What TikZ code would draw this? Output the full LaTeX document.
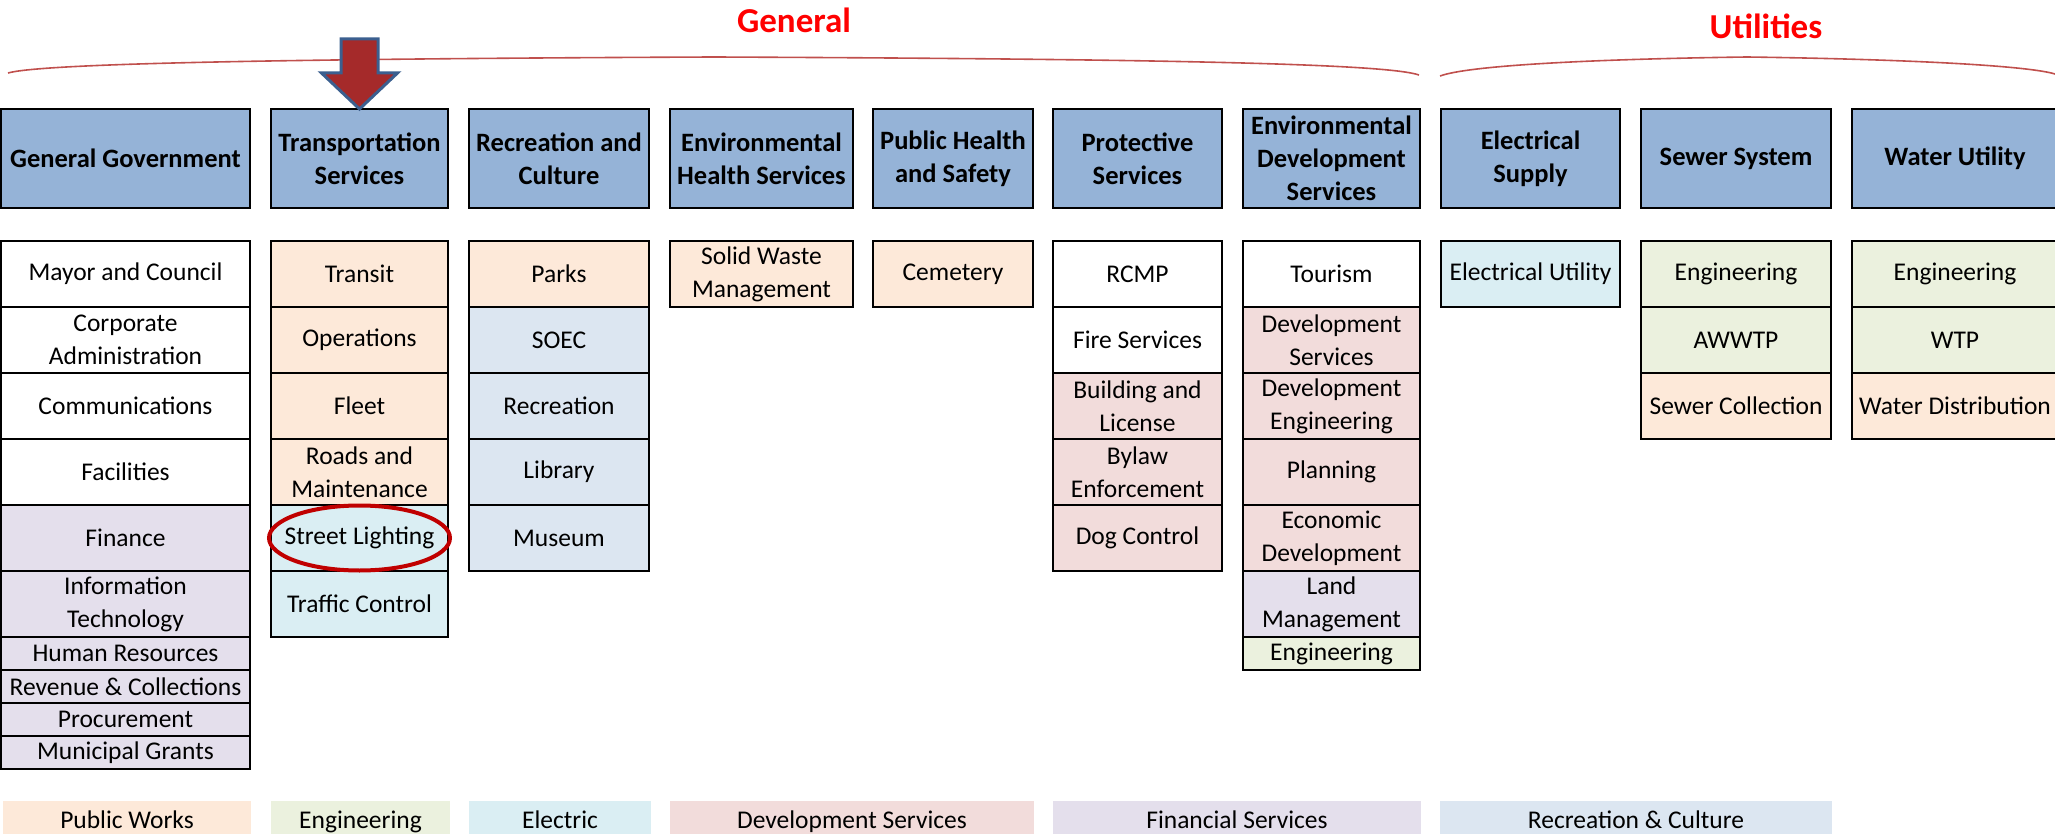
\documentclass[tikz,border=0pt]{standalone}
\usepackage{fontspec}
\setmainfont{Carlito}
\usetikzlibrary{shapes.geometric}

\definecolor{hdblue}{HTML}{95B3D7}
\definecolor{pubworks}{HTML}{FDE9D9}
\definecolor{engin}{HTML}{EBF1DE}
\definecolor{electric}{HTML}{DAEEF3}
\definecolor{devserv}{HTML}{F2DCDB}
\definecolor{finserv}{HTML}{E4DFEC}
\definecolor{reccult}{HTML}{DCE6F1}
\definecolor{bracered}{HTML}{C0504D}
\definecolor{arrowred}{HTML}{A52A2A}
\definecolor{arrowblue}{HTML}{3B5F8F}
\definecolor{ringred}{HTML}{C00000}

\tikzset{
  hd/.style={draw, line width=1.5pt, fill=hdblue, minimum height=99pt, inner sep=0, outer sep=0,
    align=center, font=\fontsize{26.5}{33}\selectfont\bfseries},
  cell/.style={draw, line width=1.5pt, minimum height=66pt, inner sep=0, outer sep=0,
    align=center, font=\fontsize{25.5}{33}\selectfont},
  cellsm/.style={cell, minimum height=33pt},
  key/.style={minimum height=33pt, inner sep=0, outer sep=0, text height=24pt, text depth=3pt,
    font=\fontsize{25.5}{33}\selectfont},
  group/.style={text=red, font=\fontsize{35}{40}\selectfont\bfseries},
  brace/.style={draw=bracered, line width=1.6pt},
  bigarrow/.style={draw=arrowblue, fill=arrowred, line width=3pt},
  ring/.style={draw=ringred, line width=4pt, ellipse, minimum width=181pt, minimum height=65pt, inner sep=0},
  col1/.style={minimum width=249pt},
  col2/.style={minimum width=177pt},
  col3/.style={minimum width=180pt},
  col4/.style={minimum width=183pt},
  col5/.style={minimum width=160pt},
  col6/.style={minimum width=169pt},
  col7/.style={minimum width=177pt},
  col8/.style={minimum width=179pt},
  col9/.style={minimum width=190pt},
  col10/.style={minimum width=206pt}
}

\begin{document}
\begin{tikzpicture}[x=1pt,y=-1pt]
  \useasboundingbox (0,0) rectangle (2055,834);

  % group titles and braces
  \node[group] (general_title) at (794,20) {General};
  \node[group] (utilities_title) at (1766,26) {Utilities};
  \draw[brace] (8,73) .. controls (40,64) and (250,59) .. (714,57)
    .. controls (1178,59) and (1387,64) .. (1419,75);
  \draw[brace] (1440,76) .. controls (1470,65) and (1600,59) .. (1747,57)
    .. controls (1894,59) and (2025,65) .. (2055,74);

  % department headers
  \node[hd,col1] (gov_hd) at (125.5,158.5) {General Government};
  \node[hd,col2] (trans_hd) at (359.5,158.5) {Transportation\\Services};
  \node[hd,col3] (rec_hd) at (559,158.5) {Recreation and\\Culture};
  \node[hd,col4] (envh_hd) at (761.5,158.5) {Environmental\\Health Services};
  \node[hd,col5] (pubh_hd) at (953,158.5) {Public Health\\and Safety};
  \node[hd,col6] (prot_hd) at (1137.5,158.5) {Protective\\Services};
  \node[hd,col7] (envd_hd) at (1331.5,158.5) {Environmental\\Development\\Services};
  \node[hd,col8] (elec_hd) at (1530.5,158.5) {Electrical\\Supply};
  \node[hd,col9] (sewer_hd) at (1736,158.5) {Sewer System};
  \node[hd,col10] (water_hd) at (1955,158.5) {Water Utility};

  % General Government
  \node[cell,col1] (gov_1) at (125.5,274) {Mayor and Council};
  \node[cell,col1] (gov_2) at (125.5,340) {Corporate\\Administration};
  \node[cell,col1] (gov_3) at (125.5,406) {Communications};
  \node[cell,col1] (gov_4) at (125.5,472) {Facilities};
  \node[cell,col1,fill=finserv] (gov_5) at (125.5,538) {Finance};
  \node[cell,col1,fill=finserv] (gov_6) at (125.5,604) {Information\\Technology};
  \node[cellsm,col1,fill=finserv] (gov_7) at (125.5,653.5) {Human Resources};
  \node[cellsm,col1,fill=finserv] (gov_8) at (125.5,686.5) {Revenue \& Collections};
  \node[cellsm,col1,fill=finserv] (gov_9) at (125.5,719.5) {Procurement};
  \node[cellsm,col1,fill=finserv] (gov_10) at (125.5,752.5) {Municipal Grants};

  % Transportation Services
  \node[cell,col2,fill=pubworks] (trans_1) at (359.5,274) {Transit};
  \node[cell,col2,fill=pubworks] (trans_2) at (359.5,340) {Operations};
  \node[cell,col2,fill=pubworks] (trans_3) at (359.5,406) {Fleet};
  \node[cell,col2,fill=pubworks] (trans_4) at (359.5,472) {Roads and\\Maintenance};
  \node[cell,col2,fill=electric] (trans_5) at (359.5,538) {Street Lighting};
  \node[cell,col2,fill=electric] (trans_6) at (359.5,604) {Traffic Control};

  % Recreation and Culture
  \node[cell,col3,fill=pubworks] (rec_1) at (559,274) {Parks};
  \node[cell,col3,fill=reccult] (rec_2) at (559,340) {SOEC};
  \node[cell,col3,fill=reccult] (rec_3) at (559,406) {Recreation};
  \node[cell,col3,fill=reccult] (rec_4) at (559,472) {Library};
  \node[cell,col3,fill=reccult] (rec_5) at (559,538) {Museum};

  % Environmental Health / Public Health
  \node[cell,col4,fill=pubworks] (envh_1) at (761.5,274) {Solid Waste\\Management};
  \node[cell,col5,fill=pubworks] (pubh_1) at (953,274) {Cemetery};

  % Protective Services
  \node[cell,col6] (prot_1) at (1137.5,274) {RCMP};
  \node[cell,col6] (prot_2) at (1137.5,340) {Fire Services};
  \node[cell,col6,fill=devserv] (prot_3) at (1137.5,406) {Building and\\License};
  \node[cell,col6,fill=devserv] (prot_4) at (1137.5,472) {Bylaw\\Enforcement};
  \node[cell,col6,fill=devserv] (prot_5) at (1137.5,538) {Dog Control};

  % Environmental Development Services
  \node[cell,col7] (envd_1) at (1331.5,274) {Tourism};
  \node[cell,col7,fill=devserv] (envd_2) at (1331.5,340) {Development\\Services};
  \node[cell,col7,fill=devserv] (envd_3) at (1331.5,406) {Development\\Engineering};
  \node[cell,col7,fill=devserv] (envd_4) at (1331.5,472) {Planning};
  \node[cell,col7,fill=devserv] (envd_5) at (1331.5,538) {Economic\\Development};
  \node[cell,col7,fill=finserv] (envd_6) at (1331.5,604) {Land\\Management};
  \node[cellsm,col7,fill=engin] (envd_7) at (1331.5,653.5) {Engineering};

  % Utilities
  \node[cell,col8,fill=electric] (elec_1) at (1530.5,274) {Electrical Utility};
  \node[cell,col9,fill=engin] (sewer_1) at (1736,274) {Engineering};
  \node[cell,col9,fill=engin] (sewer_2) at (1736,340) {AWWTP};
  \node[cell,col9,fill=pubworks] (sewer_3) at (1736,406) {Sewer Collection};
  \node[cell,col10,fill=engin] (water_1) at (1955,274) {Engineering};
  \node[cell,col10,fill=engin] (water_2) at (1955,340) {WTP};
  \node[cell,col10,fill=pubworks] (water_3) at (1955,406) {Water Distribution};

  % highlight
  \node[ring] (light_ring) at (trans_5) {};
  \draw[bigarrow] (trans_hd.north) -- ++(-38,-36) -- ++(19.5,0) -- ++(0,-34)
    -- ++(37,0) -- ++(0,34) -- ++(19.5,0) -- cycle;

  % legend
  \node[key,fill=pubworks,minimum width=248pt] (key_pw) at (127,817.5) {Public Works};
  \node[key,fill=engin,minimum width=179pt] (key_eng) at (360.5,817.5) {Engineering};
  \node[key,fill=electric,minimum width=182pt] (key_elec) at (560,817.5) {Electric};
  \node[key,fill=devserv,minimum width=364pt] (key_dev) at (852,817.5) {Development Services};
  \node[key,fill=finserv,minimum width=368pt] (key_fin) at (1237,817.5) {Financial Services};
  \node[key,fill=reccult,minimum width=392pt] (key_rec) at (1636,817.5) {Recreation \& Culture};
\end{tikzpicture}
\end{document}
